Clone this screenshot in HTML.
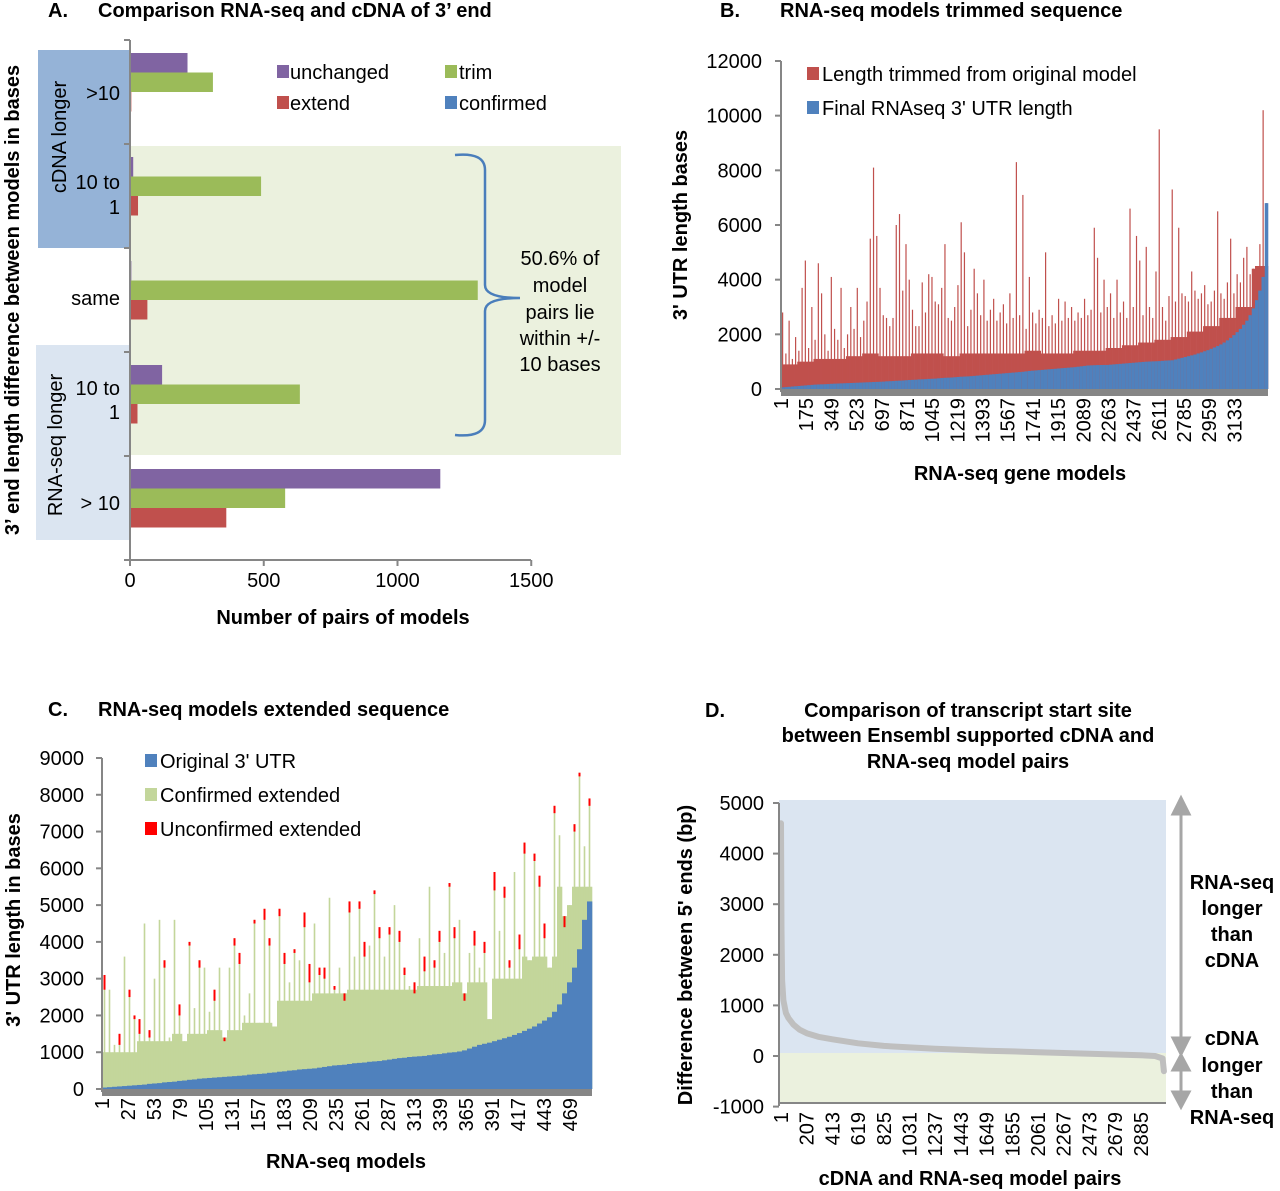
<!DOCTYPE html>
<html><head><meta charset="utf-8"><style>
html,body{margin:0;padding:0;background:#fff}
svg{display:block;font-family:"Liberation Sans",Arial,sans-serif}
.b{font-weight:bold}
</style></head><body>
<svg id="fig" width="1280" height="1191" viewBox="0 0 1280 1191" xmlns="http://www.w3.org/2000/svg">
<g id="pa">
<rect x="38" y="50" width="92" height="198" fill="#95b3d7"/>
<rect x="36" y="345" width="94" height="195" fill="#dbe5f1"/>
<rect x="130" y="146" width="491" height="309" fill="#ebf1de"/>
<text x="48" y="17" font-size="20" class="b">A.</text>
<text x="98" y="17" font-size="20" class="b">Comparison RNA-seq and cDNA of 3’ end</text>
<text transform="translate(19,300) rotate(-90)" text-anchor="middle" font-size="20" class="b">3’ end length difference between models in bases</text>
<text transform="translate(66,137) rotate(-90)" text-anchor="middle" font-size="20">cDNA longer</text>
<text transform="translate(62,445) rotate(-90)" text-anchor="middle" font-size="20">RNA-seq longer</text>
<text x="343" y="624" text-anchor="middle" font-size="20" class="b">Number of pairs of models</text>
<path d="M455,155 Q485,152 485,170 L485,285 Q485,298 520,298 Q485,298 485,311 L485,420 Q485,438 455,435" fill="none" stroke="#4a7ebb" stroke-width="2.5"/>
<g font-size="20" text-anchor="middle">
<text x="560" y="265">50.6% of</text><text x="560" y="292">model</text><text x="560" y="319">pairs lie</text><text x="560" y="345">within +/-</text><text x="560" y="371">10 bases</text></g>
<g id="pa-legend" font-size="20">
<rect x="277" y="65" width="12" height="13" fill="#8064a2"/><text x="290" y="79">unchanged</text>
<rect x="445" y="65" width="12" height="13" fill="#9bbb59"/><text x="459" y="79">trim</text>
<rect x="277" y="96" width="12" height="13" fill="#c0504d"/><text x="290" y="110">extend</text>
<rect x="445" y="96" width="12" height="13" fill="#4f81bd"/><text x="459" y="110">confirmed</text>
</g>
</g>
<g id="pb">
<text x="720" y="17" font-size="20" class="b">B.</text>
<text x="780" y="17" font-size="20" class="b">RNA-seq models trimmed sequence</text>
<text transform="translate(687,225) rotate(-90)" text-anchor="middle" font-size="20" class="b">3' UTR length bases</text>
<text x="1020" y="480" text-anchor="middle" font-size="20" class="b">RNA-seq gene models</text>
</g>
<g id="pc">
<text x="48" y="716" font-size="20" class="b">C.</text>
<text x="98" y="716" font-size="20" class="b">RNA-seq models extended sequence</text>
<text transform="translate(20,920) rotate(-90)" text-anchor="middle" font-size="20" class="b">3' UTR length in bases</text>
<text x="346" y="1168" text-anchor="middle" font-size="20" class="b">RNA-seq models</text>
</g>
<g id="pd">
<rect x="779" y="800" width="387" height="253" fill="#dbe5f1"/>
<rect x="779" y="1053" width="387" height="50" fill="#ebf1de"/>
<text x="705" y="717" font-size="20" class="b">D.</text>
<g font-size="20" class="b" text-anchor="middle">
<text x="968" y="717">Comparison of transcript start site</text>
<text x="968" y="742">between Ensembl supported cDNA and</text>
<text x="968" y="768">RNA-seq model pairs</text></g>
<text transform="translate(692,955) rotate(-90)" text-anchor="middle" font-size="20" class="b">Difference between 5' ends (bp)</text>
<text x="970" y="1185" text-anchor="middle" font-size="20" class="b">cDNA and RNA-seq model pairs</text>
<g stroke="#a6a6a6" stroke-width="3" fill="#a6a6a6">
<line x1="1181" y1="812" x2="1181" y2="1040"/><path d="M1173,814 L1181,798 L1189,814Z"/><path d="M1173,1038 L1181,1054 L1189,1038Z"/>
<line x1="1181" y1="1068" x2="1181" y2="1094"/><path d="M1173,1070 L1181,1055 L1189,1070Z"/><path d="M1173,1092 L1181,1107 L1189,1092Z"/>
</g>
<g font-size="20" class="b" text-anchor="middle">
<text x="1232" y="889">RNA-seq</text><text x="1232" y="915">longer</text><text x="1232" y="941">than</text><text x="1232" y="967">cDNA</text></g>
<g font-size="20" class="b" text-anchor="middle">
<text x="1232" y="1045">cDNA</text><text x="1232" y="1072">longer</text><text x="1232" y="1098">than</text><text x="1232" y="1124">RNA-seq</text></g>
</g>
</svg>
<script>
// ---------- Panel A data ----------
var aCategories = ['>10', '10 to 1 (cDNA)', 'same', '10 to 1 (RNA-seq)', '> 10'];
var aUnchanged = [215, 12, 5, 120, 1160];
var aTrim = [310, 490, 1300, 635, 580];
var aExtend = [5, 30, 65, 28, 360];
var aConfirmed = [0, 0, 2, 0, 0];
var aTicks = [0, 500, 1000, 1500];
// ---------- Panel B data ----------
var bFinal = [60,70,80,90,100,110,120,130,140,150,160,165,170,175,180,190,195,200,205,210,215,220,225,230,235,240,245,250,255,260,265,270,280,285,290,300,305,310,320,330,335,340,350,355,360,370,375,380,390,400,410,415,420,430,440,450,455,460,470,480,490,500,510,520,530,540,550,560,570,580,590,600,610,620,630,645,660,670,680,690,700,710,720,730,740,750,760,770,780,790,800,815,830,845,860,865,870,875,878,880,880,890,900,910,920,930,940,950,960,970,980,990,1000,1005,1010,1015,1020,1030,1040,1045,1050,1080,1110,1140,1170,1200,1230,1260,1300,1340,1380,1420,1470,1520,1570,1630,1700,1780,1870,1970,2080,2200,2350,2500,2700,2950,3250,3600,4100,6800];
var bPeak = [2800,1300,2500,1100,1900,1400,3700,4700,1500,3000,1800,4600,3500,2000,1400,4100,2200,1800,3700,1500,2000,3000,2200,3700,1900,2500,3200,5500,8100,5600,3700,2700,2600,2300,2600,6000,6400,3600,5300,4000,2900,2300,2300,3900,2800,4200,4100,3200,3100,3700,5300,2600,2500,3000,3800,6100,5000,2300,2900,4400,3500,2700,4000,2500,2900,3300,2500,2800,3100,2400,3500,2600,8300,2700,7100,2200,4100,2800,2400,2900,2600,5000,2300,2700,2400,3300,2500,3200,2600,3000,2500,2800,2600,3300,2700,2900,5900,4800,2800,4000,3000,3500,2600,4000,2800,3200,2600,6600,3000,5600,4700,2700,5200,3000,2600,4300,9500,3000,2500,3400,7300,3200,5900,3500,3400,3200,4300,3600,3300,3500,3800,3100,3200,3600,6500,3500,3300,3900,5500,3500,4200,3900,4800,5200,4200,4400,4500,5300,10200,6800];
var bDense = [900,1000,1100,1100,1200,1300,1200,1200,1300,1300,1200,1300,1300,1300,1300,1400,1300,1300,1400,1400,1500,1600,1700,1800,1900,2100,2300,2600,3000,4500];
var bYTicks = [0,2000,4000,6000,8000,10000,12000];
var bXTicks = [1,175,349,523,697,871,1045,1219,1393,1567,1741,1915,2089,2263,2437,2611,2785,2959,3133];
// ---------- Panel C data ----------
var cOriginal = [40,50,60,70,80,90,100,110,120,140,150,160,180,190,200,220,230,250,260,280,290,300,310,320,330,340,350,360,370,390,400,410,420,440,450,470,480,500,510,530,540,550,560,580,600,620,640,650,660,680,700,710,720,740,750,760,780,800,820,840,850,870,880,890,900,920,940,950,970,990,1000,1020,1050,1100,1150,1200,1230,1260,1300,1340,1380,1420,1470,1520,1580,1640,1700,1780,1860,1950,2100,2300,2600,2900,3300,3800,4600,5100];
var cConfirmedPeak = [3100,2700,1200,1500,3600,2700,2000,1900,4500,1600,3000,4600,3500,1400,4600,2300,1300,4000,2200,3500,3300,2100,2700,3300,1400,3300,4100,3700,2000,2600,4600,1800,4900,4100,1700,4900,3700,2900,3800,3500,4800,3400,4500,3300,3300,5200,2800,3300,2600,5100,3600,5100,4000,3900,5400,4400,3600,4400,5000,4300,3300,2800,2900,4100,3600,5500,3500,4300,3700,5600,4400,4600,2600,3700,4300,3300,4000,1900,5900,4300,5500,3500,5900,4200,6700,3500,6400,5800,4500,3300,7700,6900,4700,5000,7200,8600,6600,7900];
var cUnconfirmed = [400,0,0,300,0,200,100,400,0,200,0,0,200,0,0,300,0,100,0,200,0,0,300,0,100,0,200,300,0,0,100,0,300,200,0,200,300,0,100,0,400,500,0,200,300,0,100,0,200,300,0,200,400,0,100,300,0,200,0,300,200,0,300,0,400,0,200,300,0,100,300,0,200,0,400,0,300,0,500,0,300,200,0,400,300,0,200,300,400,0,200,0,300,0,200,100,0,200];
var cDense = [1000,1300,1500,1600,1800,2400,2600,2700,2700,2800,2900,3000,3600,5500];
var cYTicks = [0,1000,2000,3000,4000,5000,6000,7000,8000,9000];
var cXTicks = [1,27,53,79,105,131,157,183,209,235,261,287,313,339,365,391,417,443,469];
// ---------- Panel D data ----------
var dPairs = [1,5,10,20,40,60,100,150,207,300,413,619,825,1031,1237,1443,1649,1855,2061,2267,2473,2679,2885,3000,3060,3070];
var dDiffs = [4600,2500,1500,1100,850,750,620,520,450,380,330,250,200,170,145,125,105,90,75,60,45,30,15,0,-50,-300];
var dYTicks = [-1000,0,1000,2000,3000,4000,5000];
var dXTicks = [1,207,413,619,825,1031,1237,1443,1649,1855,2061,2267,2473,2679,2885];

var NS = 'http://www.w3.org/2000/svg';
function mk(parent, tag, attrs, txt) {
  var e = document.createElementNS(NS, tag);
  for (var k in attrs) e.setAttribute(k, attrs[k]);
  if (txt !== undefined) e.textContent = txt;
  parent.appendChild(e);
  return e;
}
var pa = document.getElementById('pa'), pb = document.getElementById('pb'),
    pc = document.getElementById('pc'), pd = document.getElementById('pd');

// ===== Panel A =====
function ax(v) { return 130 + v * 0.2675; }
var aTop = 40, aBand = 104;
var aSeries = [aUnchanged, aTrim, aExtend, aConfirmed];
var aColors = ['#8064a2', '#9bbb59', '#c0504d', '#4f81bd'];
var aNames = ['unchanged', 'trim', 'extend', 'confirmed'];
for (var i = 0; i < aCategories.length; i++) {
  for (var s = 0; s < 4; s++) {
    var v = aSeries[s][i];
    var r = mk(pa, 'rect', {x: ax(0), y: aTop + i * aBand + 13 + s * 19.5, width: ax(v) - ax(0), height: 19.5, fill: aColors[s]});
    
    
  }
}
var aLbl = [['>10'], ['10 to', '1'], ['same'], ['10 to', '1'], ['> 10']];
var aLblY = [[100], [189, 214], [305], [395, 419], [510]];
for (var i = 0; i < aLbl.length; i++) {
  for (var j = 0; j < aLbl[i].length; j++) {
    var t = mk(pa, 'text', {x: 120, y: aLblY[i][j], 'text-anchor': 'end', 'font-size': 20}, aLbl[i][j]);
    
    
  }
}
var aAxis = mk(pa, 'path', {d: 'M130,40 L130,560 L531,560', fill: 'none', stroke: '#868686', 'stroke-width': 2});


for (var k = 0; k <= 5; k++) {
  var tk = mk(pa, 'line', {x1: 124, x2: 130, y1: aTop + k * aBand, y2: aTop + k * aBand, stroke: '#868686', 'stroke-width': 2});
  
  
}
aTicks.forEach(function (v) {
  var tk = mk(pa, 'line', {x1: ax(v), x2: ax(v), y1: 560, y2: 566, stroke: '#868686', 'stroke-width': 2});
  
  
  var t = mk(pa, 'text', {x: ax(v), y: 587, 'text-anchor': 'middle', 'font-size': 20}, String(v));
  
  
});

// ===== Panel B =====
var bX0 = 781, bX1 = 1268, bN = 3364;
function bx(m) { return bX0 + (m - 1) * (bX1 - bX0) / bN; }
function by(v) { return 389 - v * 328 / 12000; }
var bw = (bX1 - bX0) / bFinal.length;
for (var i = 0; i < bFinal.length; i++) {
  var x = bX0 + i * bw;
  var dense = Math.min(bDense[Math.floor(i / 5)], bPeak[i]);
  var rb = mk(pb, 'rect', {x: x, y: by(dense), width: bw + 0.3, height: by(0) - by(dense), fill: '#c0504d'});
  
  
  var rs = mk(pb, 'rect', {x: x + bw / 2 - 0.6, y: by(bPeak[i]), width: 1.2, height: by(0) - by(bPeak[i]), fill: '#c0504d'});
  
  
  var bb = mk(pb, 'rect', {x: x, y: by(bFinal[i]), width: bw + 0.3, height: by(0) - by(bFinal[i]), fill: '#4f81bd'});
  
  
}
var bBase = mk(pb, 'rect', {x: bX0, y: 389, width: bX1 - bX0, height: 7, fill: '#868686'});


var bAx = mk(pb, 'line', {x1: bX0, x2: bX0, y1: 61, y2: 392, stroke: '#868686', 'stroke-width': 2});


bYTicks.forEach(function (v) {
  var tk = mk(pb, 'line', {x1: bX0 - 6, x2: bX0, y1: by(v), y2: by(v), stroke: '#868686', 'stroke-width': 2});
  
  
  var t = mk(pb, 'text', {x: 762, y: by(v) + 7, 'text-anchor': 'end', 'font-size': 20}, String(v));
  
  
});
bXTicks.forEach(function (m) {
  var t = mk(pb, 'text', {transform: 'translate(' + (bx(m) + 7) + ',398) rotate(-90)', 'text-anchor': 'end', 'font-size': 20}, String(m));
  
  
});
var bl1 = mk(pb, 'rect', {x: 807, y: 67, width: 12, height: 13, fill: '#c0504d'});


var bt1 = mk(pb, 'text', {x: 822, y: 81, 'font-size': 20}, 'Length trimmed from original model');


var bl2 = mk(pb, 'rect', {x: 807, y: 101, width: 12, height: 13, fill: '#4f81bd'});


var bt2 = mk(pb, 'text', {x: 822, y: 115, 'font-size': 20}, "Final RNAseq 3' UTR length");



// ===== Panel C =====
var cX0 = 102, cX1 = 592, cN = 490;
function cx(m) { return cX0 + (m - 1) * (cX1 - cX0) / cN; }
function cy(v) { return 1089 - v * 331 / 9000; }
var cw = (cX1 - cX0) / cOriginal.length;
for (var i = 0; i < cOriginal.length; i++) {
  var x = cX0 + i * cw;
  var dense = Math.min(cDense[Math.floor(i / 7)], cConfirmedPeak[i]);
  var g = mk(pc, 'rect', {x: x, y: cy(dense), width: cw + 0.3, height: cy(0) - cy(dense), fill: '#c3d69b'});
  
  
  var gs = mk(pc, 'rect', {x: x + cw / 2 - 0.8, y: cy(cConfirmedPeak[i]), width: 1.6, height: cy(0) - cy(cConfirmedPeak[i]), fill: '#c3d69b'});
  
  
  if (cUnconfirmed[i] > 0) {
    var rr = mk(pc, 'rect', {x: x + cw / 2 - 1, y: cy(cConfirmedPeak[i]), width: 2, height: cy(0) - cy(cUnconfirmed[i]), fill: '#ff0000'});
    
    
  }
  var bb = mk(pc, 'rect', {x: x, y: cy(cOriginal[i]), width: cw + 0.3, height: cy(0) - cy(cOriginal[i]), fill: '#4f81bd'});
  
  
}
var cBase = mk(pc, 'rect', {x: cX0, y: 1089, width: cX1 - cX0, height: 7, fill: '#868686'});


var cAx = mk(pc, 'line', {x1: cX0, x2: cX0, y1: 758, y2: 1092, stroke: '#868686', 'stroke-width': 2});


cYTicks.forEach(function (v) {
  var tk = mk(pc, 'line', {x1: cX0 - 6, x2: cX0, y1: cy(v), y2: cy(v), stroke: '#868686', 'stroke-width': 2});
  
  
  var t = mk(pc, 'text', {x: 84, y: cy(v) + 7, 'text-anchor': 'end', 'font-size': 20}, String(v));
  
  
});
cXTicks.forEach(function (m) {
  var t = mk(pc, 'text', {transform: 'translate(' + (cx(m) + 7) + ',1098) rotate(-90)', 'text-anchor': 'end', 'font-size': 20}, String(m));
  
  
});
var cLeg = [['#4f81bd', "Original 3' UTR", 754], ['#c3d69b', 'Confirmed extended', 788], ['#ff0000', 'Unconfirmed extended', 822]];
cLeg.forEach(function (l) {
  var sw = mk(pc, 'rect', {x: 145, y: l[2], width: 12, height: 13, fill: l[0]});
  
  
  var t = mk(pc, 'text', {x: 160, y: l[2] + 14, 'font-size': 20}, l[1]);
  
  
});

// ===== Panel D =====
function dx(p) { return 781 + (p - 1) * 25.7 / 206; }
function dy(v) { return 1056 - v * 50.6 / 1000; }
var dpts = dPairs.map(function (p, i) { return dx(p).toFixed(1) + ',' + dy(dDiffs[i]).toFixed(1); }).join(' ');
var dl = mk(pd, 'polyline', {points: dpts, fill: 'none', stroke: '#bfbfbf', 'stroke-width': 6, 'stroke-linejoin': 'round', 'stroke-linecap': 'round'});


var dAx = mk(pd, 'path', {d: 'M779,803 L779,1106', fill: 'none', stroke: '#868686', 'stroke-width': 2});


var dXa = mk(pd, 'line', {x1: 779, x2: 1166, y1: 1103, y2: 1103, stroke: '#868686', 'stroke-width': 2});


dYTicks.forEach(function (v) {
  var tk = mk(pd, 'line', {x1: 773, x2: 779, y1: dy(v), y2: dy(v), stroke: '#868686', 'stroke-width': 2});
  
  
  var t = mk(pd, 'text', {x: 764, y: dy(v) + 7, 'text-anchor': 'end', 'font-size': 20}, String(v));
  
  
});
dXTicks.forEach(function (p) {
  var t = mk(pd, 'text', {transform: 'translate(' + (dx(p) + 7) + ',1112) rotate(-90)', 'text-anchor': 'end', 'font-size': 20}, String(p));
  
  
});
</script>
</body></html>
